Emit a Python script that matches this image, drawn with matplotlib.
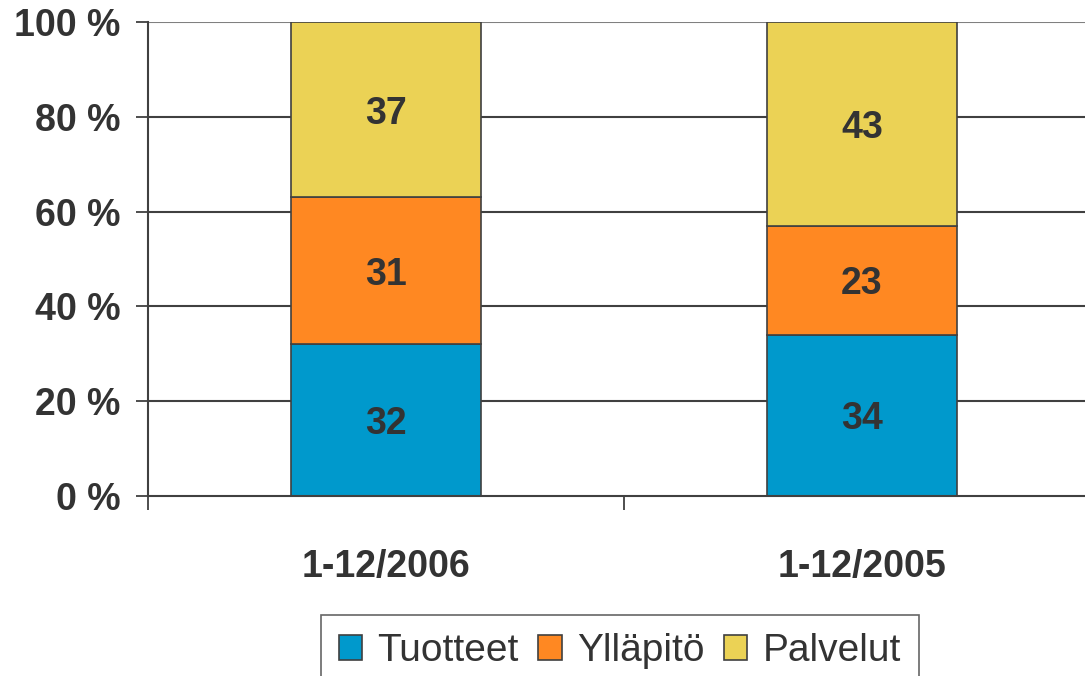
import matplotlib
matplotlib.use('Agg')
import matplotlib.pyplot as plt
import numpy as np

# Data (percent shares)
periods = ['1-12/2006', '1-12/2005']
tuotteet = [32, 34]
yllapito = [31, 23]
palvelut = [37, 43]
series_names = ['Tuotteet', 'Ylläpitö', 'Palvelut']
colors = ['#0099CC', '#FF8822', '#EBD255']

plt.rcParams['font.family'] = ['Liberation Sans', 'DejaVu Sans']

fig = plt.figure(figsize=(10.85, 6.76), dpi=100)
ax = fig.add_axes([148 / 1085, 1 - 496 / 676, 952 / 1085, 474 / 676])

x = np.arange(len(periods))
width = 0.40
bottom = np.zeros(len(periods))
for name, vals, col in zip(series_names, [tuotteet, yllapito, palvelut], colors):
    vals = np.array(vals, dtype=float)
    bars = ax.bar(x, vals, width, bottom=bottom, color=col, edgecolor='#404040',
                  linewidth=1.2, label=name, zorder=3)
    for xi, b, v in zip(x, bottom, vals):
        ax.text(xi, b + v / 2, f'{int(v)}', ha='center', va='center_baseline',
                fontsize=27, fontweight='bold', color='#333333', zorder=4)
    bottom += vals

ax.set_xlim(-0.5, 1.5)
ax.set_ylim(0, 100)

# grid lines
yt = np.arange(0, 101, 20)
for v in yt[1:]:
    ax.axhline(v, color='#808080' if v == 100 else '#404040', linewidth=1.5, zorder=1)

ax.set_yticks(yt)
ax.set_yticklabels([f'{v} %' for v in yt])
ax.tick_params(axis='y', length=8.6, width=1.3, color='#404040', pad=11,
               labelsize=27, labelcolor='#333333')
for lab in ax.get_yticklabels():
    lab.set_fontweight('bold')

ax.set_xticks([-0.5, 0.5, 1.5])
ax.set_xticklabels(['', '', ''])
ax.tick_params(axis='x', which='major', length=10, width=1.3, color='#404040')
ax.set_xticks(x, minor=True)
ax.set_xticklabels(periods, minor=True)
ax.tick_params(axis='x', which='minor', length=0, pad=38, labelsize=27,
               labelcolor='#333333')
for lab in ax.get_xticklabels(minor=True):
    lab.set_fontweight('bold')

for s in ['top', 'right']:
    ax.spines[s].set_visible(False)
ax.spines['left'].set_color('#404040')
ax.spines['left'].set_linewidth(1.5)
ax.spines['bottom'].set_color('#404040')
ax.spines['bottom'].set_linewidth(1.5)
ax.spines['left'].set_zorder(5)
ax.spines['bottom'].set_zorder(5)

leg = fig.legend(loc='upper center', bbox_to_anchor=(620 / 1085, 1 - 596 / 676),
                 ncol=3, fontsize=28, frameon=True, fancybox=False,
                 handlelength=0.6, handleheight=0.6, handletextpad=0.4,
                 columnspacing=0.5, borderpad=0.45, labelcolor='#333333')
leg.get_frame().set_edgecolor('#404040')
leg.get_frame().set_linewidth(1.2)

fig.savefig('out.png', dpi=100)
